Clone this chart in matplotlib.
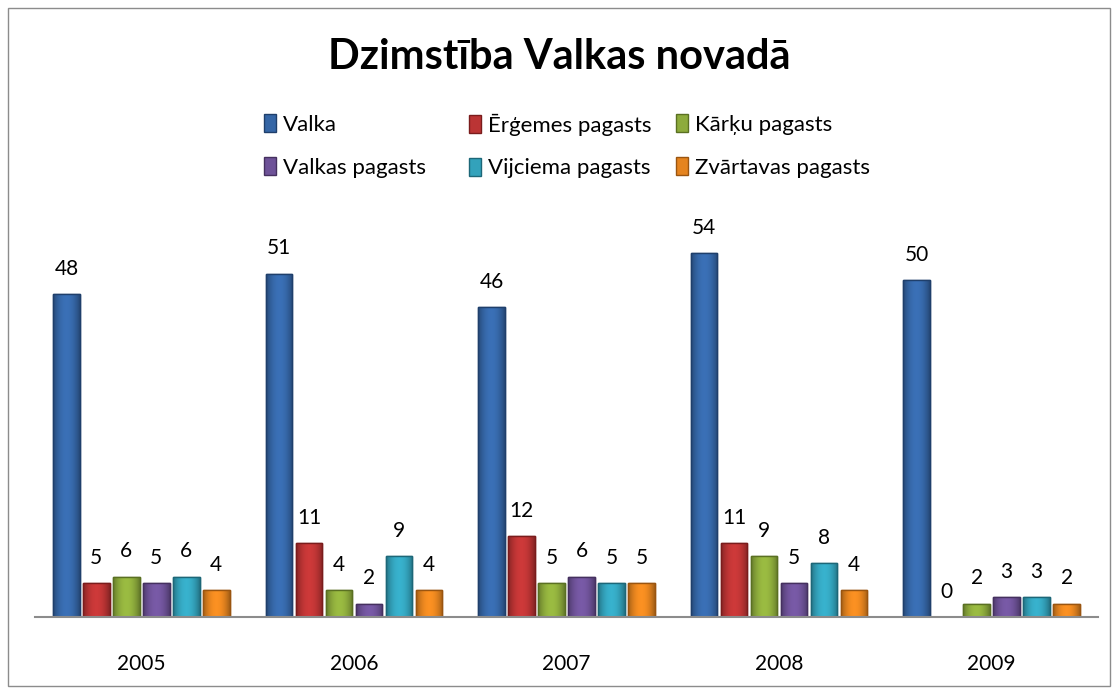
import matplotlib.pyplot as plt
import matplotlib.patches as mpatches
from matplotlib.colors import to_rgb
import numpy as np

plt.rcParams['font.family'] = ['Lato', 'DejaVu Sans']

years = ['2005', '2006', '2007', '2008', '2009']
valka = [48, 51, 46, 54, 50]
ergemes = [5, 11, 12, 11, 0]
karku = [6, 4, 5, 9, 2]
valkas_pag = [5, 2, 6, 5, 3]
vijciema = [6, 9, 5, 8, 3]
zvartavas = [4, 4, 5, 4, 2]

series = [
    ('Valka', valka, '#3566a6', '#1f3f6b'),
    ('Ērģemes pagasts', ergemes, '#bb3434', '#7a1c1c'),
    ('Kārķu pagasts', karku, '#8dab3c', '#5a7022'),
    ('Valkas pagasts', valkas_pag, '#6e5298', '#45305f'),
    ('Vijciema pagasts', vijciema, '#33a2bb', '#1d6778'),
    ('Zvārtavas pagasts', zvartavas, '#e5841f', '#9a5510'),
]

fig = plt.figure(figsize=(11.18, 6.94), dpi=100)
# chart border
fig.patches.append(mpatches.Rectangle((8 / 1118, 8 / 694), 1102 / 1118, 678 / 694,
                                      transform=fig.transFigure, fill=False,
                                      edgecolor='#8c8c8c', linewidth=1))

ax = fig.add_axes([35 / 1118, (694 - 617) / 694, 1063 / 1118, 404 / 694])
x = np.arange(len(years))
step = 0.141
width = 0.125
handles = []
for i, (name, vals, col, edge) in enumerate(series):
    pos = x + (i - 2.5) * step
    bars = ax.bar(pos, vals, width=width, color=col, edgecolor=edge, linewidth=1.0, label=name)
    handles.append(bars)
    # soft horizontal shading so the bars look rounded like the original
    c = np.array(to_rgb(col))
    t = np.linspace(-1, 1, 40)
    shade = 0.72 + 0.38 * (1 - t ** 2)
    grad = np.clip(c[None, :] * shade[:, None], 0, 1)[None, :, :]
    for b in bars:
        if b.get_height() <= 0:
            continue
        im = ax.imshow(grad, extent=(b.get_x(), b.get_x() + b.get_width(), 0, b.get_height()),
                       aspect='auto', zorder=b.get_zorder() + 0.1, interpolation='bicubic')
        im.set_clip_path(b)
        ax.bar(b.get_x() + b.get_width() / 2, b.get_height(), width=b.get_width(),
               fill=False, edgecolor=edge, linewidth=1.0, zorder=b.get_zorder() + 0.2)
    for p, v in zip(pos, vals):
        ax.annotate(str(v), (p, v), xytext=(0, 11), textcoords='offset points',
                    ha='center', va='bottom', fontsize=15, color='#000000')

ax.set_xlim(-0.5, 4.5)
ax.set_ylim(0, 60)
ax.set_xticks(x)
ax.set_xticklabels(years, fontsize=15)
ax.tick_params(axis='x', length=0, pad=27)
ax.set_yticks([])
for s in ['top', 'right', 'left']:
    ax.spines[s].set_visible(False)
ax.spines['bottom'].set_color('#8c8c8c')
ax.spines['bottom'].set_linewidth(1.5)
ax.spines['bottom'].set_zorder(5)
ax.patch.set_visible(False)

fig.text(0.5, (694 - 57) / 694, 'Dzimstība Valkas novadā', ha='center', va='center',
         fontsize=30, fontweight='bold')

# legend: three fixed-width columns like the original
col_x = [264, 469, 676]
order = [[0, 3], [1, 4], [2, 5]]
for cx, idx in zip(col_x, order):
    fig.legend([handles[k] for k in idx], [series[k][0] for k in idx],
               loc='center left', bbox_to_anchor=(cx / 1118, (694 - 146) / 694),
               frameon=False, fontsize=16, handlelength=0.55, handleheight=0.85,
               handletextpad=0.3, labelspacing=1.0, borderpad=0, borderaxespad=0)

fig.savefig('out.png', dpi=100)
